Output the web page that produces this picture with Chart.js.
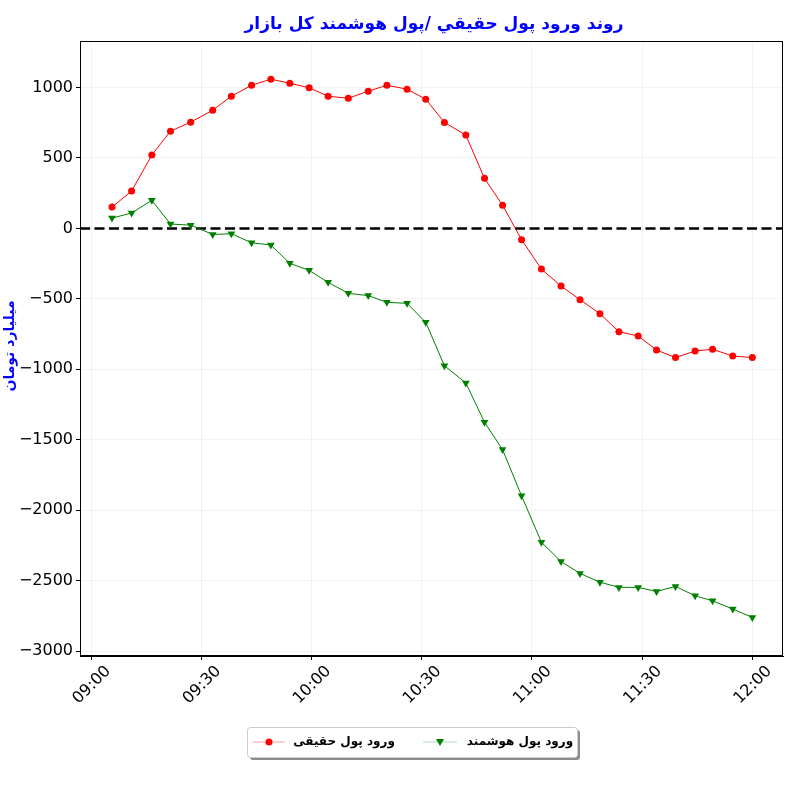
<!DOCTYPE html>
<html>
<head>
<meta charset="utf-8">
<script src="https://cdn.jsdelivr.net/npm/chart.js@4.4.0/dist/chart.umd.min.js"></script>
<style>
  body { margin: 0; background: #fff; }
  canvas { display: block; }
</style>
</head>
<body>
<canvas id="chart" width="800" height="800"></canvas>
<script>
// sample times (roughly every 5 minutes)
const times = [
  '09:05:40', '09:11:00', '09:16:30', '09:21:35', '09:27:05', '09:33:05', '09:38:10',
  '09:43:40', '09:48:55', '09:54:05', '09:59:20', '10:04:30', '10:10:00', '10:15:25',
  '10:20:30', '10:26:00', '10:31:05', '10:36:10', '10:42:00', '10:47:05', '10:52:00',
  '10:57:10', '11:02:35', '11:07:55', '11:13:05', '11:18:30', '11:23:40', '11:28:55',
  '11:33:55', '11:39:05', '11:44:25', '11:49:10', '11:54:40', '12:00:00'
];
// ورود پول حقیقی (billion toman)
const realMoney = [
  151, 265, 520, 690, 754, 839, 938, 1016, 1059, 1030, 998, 938, 924, 974,
  1016, 988, 917, 752, 662, 355, 165, -80, -289, -409, -506, -605, -733, -764,
  -863, -917, -870, -858, -906, -917
];
// ورود پول هوشمند
const smartMoney = [
  73, 109, 199, 31, 23, -43, -38, -102, -118, -248, -298, -383, -461, -477,
  -525, -532, -667, -975, -1097, -1376, -1570, -1898, -2228, -2364, -2449, -2511, -2548, -2548,
  -2577, -2541, -2608, -2643, -2702, -2761
];
const xTickLabels = ['09:00', '09:30', '10:00', '10:30', '11:00', '11:30', '12:00'];
const yTickValues = [-3000, -2500, -2000, -1500, -1000, -500, 0, 500, 1000];

const titleText = 'روند ورود پول حقيقي /پول هوشمند کل بازار';
const yLabelText = 'میلیارد تومان';
const realLabel = 'ورود پول حقیقی';
const smartLabel = 'ورود پول هوشمند';

// minutes after 09:00
function toMin(t) {
  const p = t.split(':').map(Number);
  return (p[0] - 9) * 60 + p[1] + (p[2] || 0) / 60;
}
function fmtMin(v) {
  const h = 9 + Math.floor(v / 60);
  const m = Math.round(v - Math.floor(v / 60) * 60);
  return String(h).padStart(2, '0') + ':' + String(m).padStart(2, '0');
}

const xMin = -3.05, xMax = 188.35;
const yMin = -3035, yMax = 1330;

const FONT = "'DejaVu Sans', sans-serif";

const extras = {
  id: 'extras',
  afterDraw(chart) {
    const ctx = chart.ctx;
    const a = chart.chartArea;
    ctx.save();
    // frame (top/right spines)
    ctx.strokeStyle = '#000';
    ctx.lineWidth = 1;
    ctx.strokeRect(a.left + 0.5, a.top + 0.5, a.right - a.left - 1, a.bottom - a.top - 1);

    // title
    ctx.fillStyle = '#0000ff';
    ctx.font = 'bold 17px ' + FONT;
    ctx.textAlign = 'center';
    ctx.textBaseline = 'middle';
    ctx.direction = 'rtl';
    ctx.fillText(titleText, 434, 25);

    // y label
    ctx.save();
    ctx.translate(10, 346);
    ctx.rotate(-Math.PI / 2);
    ctx.font = 'bold 14px ' + FONT;
    ctx.fillText(yLabelText, 0, 0);
    ctx.restore();

    // legend
    const bx = 247, by = 727, bw = 330, bh = 30;
    ctx.fillStyle = 'rgba(0,0,0,0.45)';
    ctx.beginPath();
    ctx.roundRect(bx + 3, by + 3, bw, bh, 3);
    ctx.fill();
    ctx.fillStyle = '#fff';
    ctx.strokeStyle = '#cccccc';
    ctx.beginPath();
    ctx.roundRect(bx + 0.5, by + 0.5, bw, bh, 3);
    ctx.fill();
    ctx.stroke();

    const ly = by + 15;
    // red entry
    ctx.strokeStyle = 'rgba(255,0,0,0.25)';
    ctx.lineWidth = 1.5;
    ctx.beginPath(); ctx.moveTo(253, ly); ctx.lineTo(285, ly); ctx.stroke();
    ctx.fillStyle = '#ff0000';
    ctx.beginPath(); ctx.arc(269, ly, 3.5, 0, Math.PI * 2); ctx.fill();
    // green entry
    ctx.strokeStyle = 'rgba(0,128,0,0.2)';
    ctx.beginPath(); ctx.moveTo(423, ly); ctx.lineTo(457, ly); ctx.stroke();
    ctx.fillStyle = '#008000';
    ctx.beginPath();
    ctx.moveTo(440 - 4, ly - 3); ctx.lineTo(440 + 4, ly - 3); ctx.lineTo(440, ly + 4);
    ctx.closePath(); ctx.fill();

    ctx.fillStyle = '#000';
    ctx.font = 'bold 12px ' + FONT;
    ctx.textAlign = 'center';
    ctx.fillText(realLabel, 344, ly);
    ctx.fillText(smartLabel, 520, ly);
    ctx.restore();
  }
};

const xs = times.map(toMin);

new Chart(document.getElementById('chart'), {
  type: 'line',
  data: {
    datasets: [
      {
        label: realLabel,
        data: xs.map((x, i) => ({ x: x, y: realMoney[i] })),
        borderColor: '#ff0000',
        backgroundColor: '#ff0000',
        borderWidth: 1,
        pointStyle: 'circle',
        pointRadius: 3.5,
        pointBorderWidth: 0,
        tension: 0
      },
      {
        label: smartLabel,
        data: xs.map((x, i) => ({ x: x, y: smartMoney[i] })),
        borderColor: '#008000',
        backgroundColor: '#008000',
        borderWidth: 1,
        pointStyle: 'triangle',
        rotation: 180,
        pointRadius: 4.5,
        pointBorderWidth: 0,
        tension: 0
      },
      {
        label: 'zero',
        data: [{ x: xMin, y: 0 }, { x: xMax, y: 0 }],
        borderColor: '#000',
        borderWidth: 2.5,
        borderDash: [10, 4.5],
        pointRadius: 0
      }
    ]
  },
  options: {
    responsive: false,
    animation: false,
    layout: { padding: { left: 0, right: 17, top: 41, bottom: 0 } },
    plugins: {
      legend: { display: false },
      title: { display: false },
      tooltip: { enabled: false }
    },
    scales: {
      x: {
        type: 'linear',
        min: xMin,
        max: xMax,
        afterFit(scale) { scale.height = 144; },
        afterBuildTicks(scale) {
          scale.ticks = xTickLabels.map(t => ({ value: toMin(t) }));
        },
        ticks: {
          callback: v => fmtMin(v),
          color: '#000',
          font: { family: FONT, size: 16 },
          minRotation: 45,
          maxRotation: 45,
          labelOffset: 17,
          padding: 2
        },
        grid: { color: 'rgba(0,0,0,0.05)', tickColor: '#000', tickLength: 4 },
        border: { color: '#000', width: 1 }
      },
      y: {
        min: yMin,
        max: yMax,
        afterFit(scale) { scale.width = 80; },
        afterBuildTicks(scale) {
          scale.ticks = yTickValues.map(v => ({ value: v }));
        },
        ticks: {
          callback: v => String(v).replace('-', '\u2212'),
          color: '#000',
          font: { family: FONT, size: 16 },
          padding: 3
        },
        grid: { color: 'rgba(0,0,0,0.05)', tickColor: '#000', tickLength: 4 },
        border: { color: '#000', width: 1 }
      }
    }
  },
  plugins: [extras]
});
</script>
</body>
</html>
